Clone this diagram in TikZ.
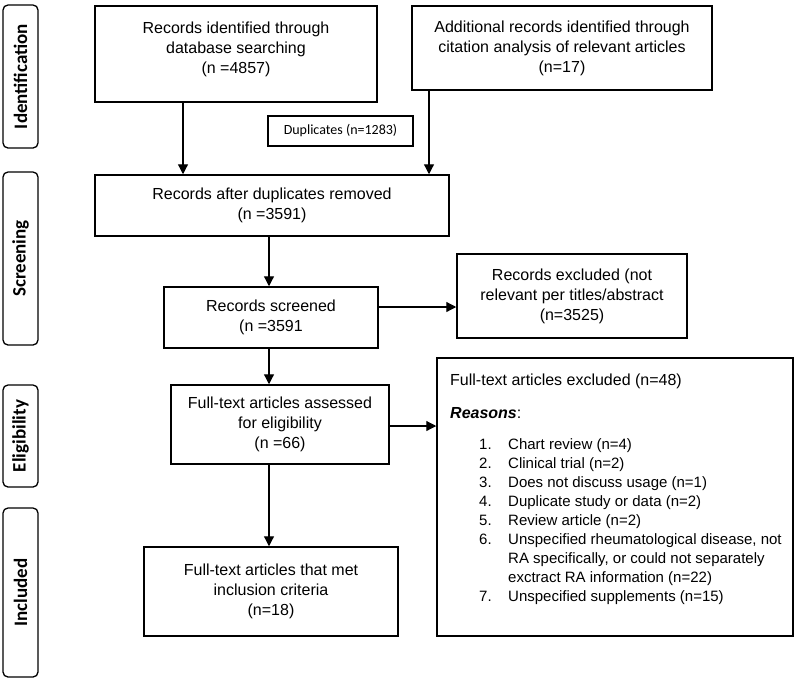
\documentclass[tikz,border=0pt]{standalone}
\usepackage{fontspec}
\setmainfont{Liberation Sans}
\newfontfamily\calibri{Carlito}
\usetikzlibrary{arrows.meta}
\tikzset{
  box/.style={draw=black, line width=1.5pt, rectangle, inner sep=0pt, align=center,
    font=\fontsize{16pt}{20pt}\selectfont},
  lab/.style={draw=black, line width=1.3pt, rounded corners=5pt, inner sep=0pt,
    font=\calibri\bfseries\fontsize{19pt}{22pt}\selectfont},
  dupbox/.style={draw=black, line width=1.5pt, inner sep=0pt,
    font=\calibri\fontsize{14pt}{16pt}\selectfont},
  arr/.style={line width=1.2pt, -{Triangle[length=10pt,width=10pt]}},
  txt/.style={inner sep=0pt, align=center, font=\fontsize{16pt}{20pt}\selectfont},
  head/.style={inner sep=0pt, anchor=base west, font=\fontsize{16pt}{20pt}\selectfont},
  item/.style={inner sep=0pt, anchor=base west, font=\fontsize{15pt}{19pt}\selectfont}
}
\begin{document}
\begin{tikzpicture}[x=1pt,y=-1pt]
\fill[white] (0,0) rectangle (800,691);
\useasboundingbox (0,0) rectangle (800,691);

% stage labels
\node[lab, rotate=90, minimum width=143pt, minimum height=35pt] (idlab) at (20.5,76.5) {Identification};
\node[lab, rotate=90, minimum width=173pt, minimum height=35pt] (scrlab) at (20.5,258.5) {Screening};
\node[lab, rotate=90, minimum width=102pt, minimum height=35pt] (elilab) at (20.5,436) {Eligibility};
\node[lab, rotate=90, minimum width=169pt, minimum height=35pt] (inclab) at (20.5,592.5) {Included};

% boxes
\node[box, minimum width=282pt, minimum height=96pt] (db) at (236,54) {};
\node[txt] (dbtext) at (236,49) {Records identified through\\database searching\\(n =4857)};
\node[box, minimum width=300pt, minimum height=84pt] (cite) at (562,48)
  {Additional records identified through\\citation analysis of relevant articles\\(n=17)};
\node[dupbox, minimum width=145pt, minimum height=30pt] (dup) at (340.5,131) {Duplicates (n=1283)};
\node[box, minimum width=354pt, minimum height=61pt] (after) at (272,205.5)
  {Records after duplicates removed\\(n =3591)};
\node[box, minimum width=214pt, minimum height=61pt] (scr) at (271,317.5)
  {Records screened\\(n =3591};
\node[box, minimum width=230pt, minimum height=84pt] (excl) at (572,296)
  {Records excluded (not\\relevant per titles/abstract\\(n=3525)};
\node[box, minimum width=218pt, minimum height=79pt] (ass) at (280,424.5)
  {Full-text articles assessed\\for eligibility\\(n =66)};
\node[box, minimum width=356pt, minimum height=278pt] (ftex) at (615,497) {};
\node[box, minimum width=254pt, minimum height=89pt] (inc) at (271,591.5)
  {Full-text articles that met\\inclusion criteria\\(n=18)};

% excluded full-text content
\node[head] (fth) at (450,385) {Full-text articles excluded (n=48)};
\node[head] (rsn) at (450,418) {\textbf{\textit{Reasons}}:};
\foreach \n/\k/\t in {1./0/Chart review (n=4),
                      2./1/Clinical trial (n=2),
                      3./2/Does not discuss usage (n=1),
                      4./3/Duplicate study or data (n=2),
                      5./4/Review article (n=2),
                      6./5/{Unspecified rheumatological disease, not},
                      /6/{RA specifically, or could not separately},
                      /7/{exctract RA information (n=22)},
                      7./8/Unspecified supplements (n=15)}{
  \node[item] (num\k) at (479,449+19.1*\k) {\n};
  \node[item] (itm\k) at (508,449+19.1*\k) {\t};
}

% connectors
\draw[arr] (183,0 |- db.south) -- (183,0 |- after.north);
\draw[arr] (429,0 |- cite.south) -- (429,0 |- after.north);
\draw[arr] (269,0 |- after.south) -- (269,0 |- scr.north);
\draw[arr] (scr.east |- 0,307) -- (excl.west |- 0,307);
\draw[arr] (269,0 |- scr.south) -- (269,0 |- ass.north);
\draw[arr] (ass.east |- 0,426) -- (ftex.west |- 0,426);
\draw[arr] (269,0 |- ass.south) -- (269,0 |- inc.north);
\end{tikzpicture}
\end{document}
